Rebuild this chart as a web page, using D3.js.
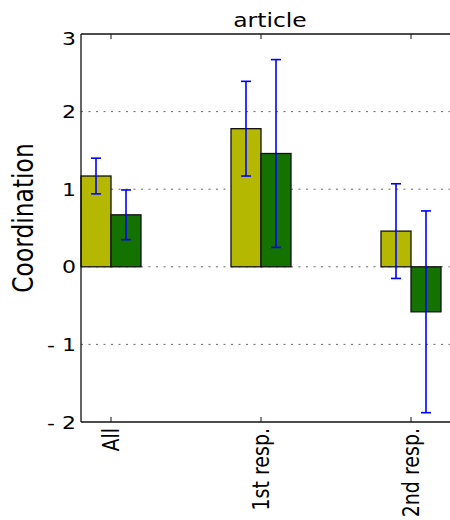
<!DOCTYPE html>
<html>
<head>
<meta charset="utf-8">
<script src="https://cdn.jsdelivr.net/npm/d3@7"></script>
<style>
  body { margin: 0; background: #fff; }
  text { font-family: "DejaVu Sans", sans-serif; fill: #000; }
</style>
</head>
<body>
<script>
const categories = ["All", "1st resp.", "2nd resp."];
const firstValues = [1.17, 1.78, 0.46];
const firstErrors = [0.23, 0.61, 0.61];
const secondValues = [0.67, 1.46, -0.58];
const secondErrors = [0.32, 1.21, 1.30];
const yTicks = [3, 2, 1, 0, -1, -2];
const gridTicks = [2, 1, 0, -1];

const W = 450, H = 520;
const margin = { top: 34, right: -9, bottom: 98, left: 81 };
const width = W - margin.left - margin.right;
const height = H - margin.top - margin.bottom;
const barW = 0.2;
const sx = 1.19; // text in the reference is stretched horizontally

const x = d3.scaleLinear().domain([-0.2, 2.32]).range([0, width]);
const y = d3.scaleLinear().domain([-2, 3]).range([height, 0]);

const svg = d3.select("body").append("svg")
    .attr("width", W)
    .attr("height", H);

const g = svg.append("g")
    .attr("transform", `translate(${margin.left}, ${margin.top})`);

// dotted grid
g.selectAll(".grid")
    .data(gridTicks)
    .join("line")
    .attr("class", "grid")
    .attr("x1", 0)
    .attr("x2", width)
    .attr("y1", d => y(d))
    .attr("y2", d => y(d))
    .attr("stroke", "#666")
    .attr("stroke-width", 1)
    .attr("stroke-dasharray", "2,5.5");

const series = [
    { values: firstValues, errors: firstErrors, offset: -barW, color: "#b4b800" },
    { values: secondValues, errors: secondErrors, offset: 0, color: "#137200" }
];

series.forEach(s => {
    g.selectAll(null)
        .data(s.values)
        .join("rect")
        .attr("x", (d, i) => x(i + s.offset))
        .attr("width", x(barW) - x(0))
        .attr("y", d => y(Math.max(0, d)))
        .attr("height", d => Math.abs(y(d) - y(0)))
        .attr("fill", s.color)
        .attr("stroke", "#111")
        .attr("stroke-width", 1.3);
});

series.forEach(s => {
    const eb = g.selectAll(null)
        .data(s.values.map((v, i) => ({ v, e: s.errors[i], i })))
        .join("g")
        .attr("stroke", "#0000ff")
        .attr("stroke-width", 1.6);
    const cx = d => x(d.i + s.offset + barW / 2);
    eb.append("line")
        .attr("x1", cx).attr("x2", cx)
        .attr("y1", d => y(d.v + d.e))
        .attr("y2", d => y(d.v - d.e));
    eb.append("line")
        .attr("x1", d => cx(d) - 5).attr("x2", d => cx(d) + 5)
        .attr("y1", d => y(d.v + d.e)).attr("y2", d => y(d.v + d.e));
    eb.append("line")
        .attr("x1", d => cx(d) - 5).attr("x2", d => cx(d) + 5)
        .attr("y1", d => y(d.v - d.e)).attr("y2", d => y(d.v - d.e));
});

// spines
g.append("line").attr("x1", 0).attr("x2", 0).attr("y1", 0).attr("y2", height)
    .attr("stroke", "#111").attr("stroke-width", 1.3);
g.append("line").attr("x1", 0).attr("x2", width).attr("y1", 0).attr("y2", 0)
    .attr("stroke", "#111").attr("stroke-width", 1.3);
g.append("line").attr("x1", 0).attr("x2", width).attr("y1", height).attr("y2", height)
    .attr("stroke", "#111").attr("stroke-width", 1.3);

// x ticks (inward, top and bottom)
categories.forEach((c, i) => {
    g.append("line").attr("x1", x(i)).attr("x2", x(i)).attr("y1", height).attr("y2", height - 5)
        .attr("stroke", "#111").attr("stroke-width", 1);
    g.append("line").attr("x1", x(i)).attr("x2", x(i)).attr("y1", 0).attr("y2", 5)
        .attr("stroke", "#111").attr("stroke-width", 1);
});

// x labels rotated, bbox centred on the tick
g.selectAll(".xlabel")
    .data(categories)
    .join("text")
    .attr("class", "xlabel")
    .attr("text-anchor", "end")
    .attr("font-size", 19)
    .text(d => d)
    .each(function(d, i) {
        const b = this.getBBox();
        const yc = b.y + b.height / 2;
        d3.select(this).attr("transform",
            `translate(${x(i) - yc * sx}, ${height + 6}) scale(${sx},1) rotate(-90)`);
    });

// y labels (the top one sits a little lower, as in the reference)
g.selectAll(".ylabel")
    .data(yTicks)
    .join("text")
    .attr("class", "ylabel")
    .attr("transform", d => `translate(-5, ${Math.max(y(d), 4.5)}) scale(${sx},1)`)
    .attr("dy", "0.36em")
    .attr("text-anchor", "end")
    .attr("font-size", 18.5)
    .text(d => d < 0 ? "- " + Math.abs(d) : d);

// axis title
svg.append("text")
    .attr("transform", `translate(33, 218) scale(${sx},1) rotate(-90)`)
    .attr("text-anchor", "middle")
    .attr("font-size", 23.4)
    .text("Coordination");

// title
svg.append("text")
    .attr("transform", `translate(${margin.left + width / 2}, 26.5) scale(${sx},1)`)
    .attr("text-anchor", "middle")
    .attr("font-size", 19.7)
    .text("article");
</script>
</body>
</html>
